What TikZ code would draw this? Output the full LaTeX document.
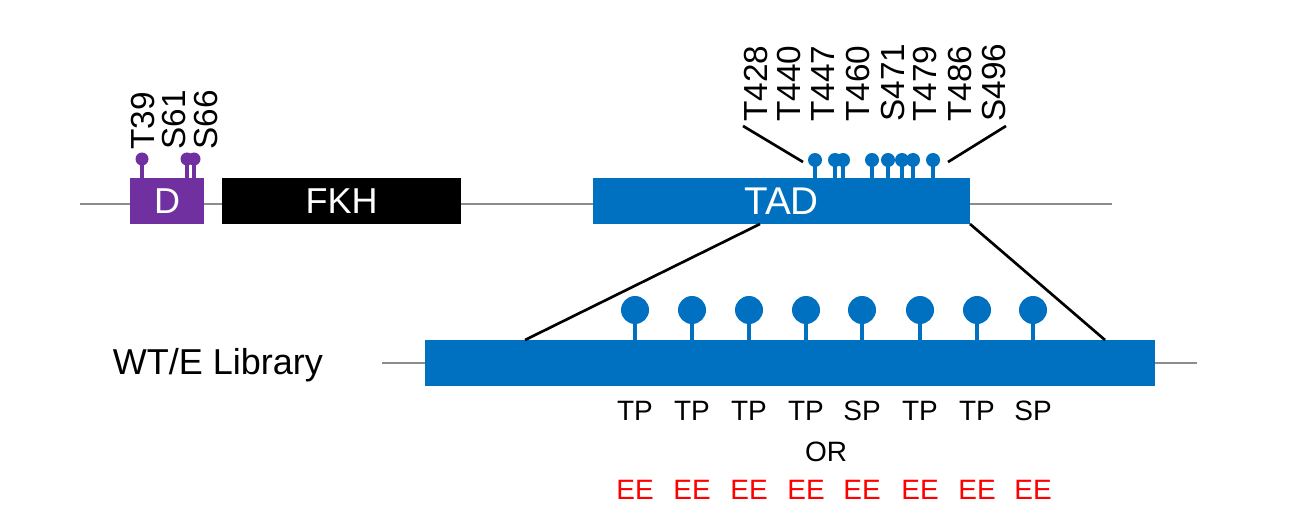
\documentclass[tikz,border=0pt]{standalone}
\usepackage{fontspec}
\setmainfont{Liberation Sans}
\begin{document}
\begin{tikzpicture}[x=0.75pt,y=-0.75pt,
  bb/.style={draw=none,anchor=center,inner sep=0pt},
  gline/.style={draw=gray!90,line width=2.2pt},
  kline/.style={draw=black,line width=2pt},
  rot/.style={rotate=90,anchor=west,inner sep=0pt,font=\fontsize{25}{25}\selectfont},
  lbl/.style={inner sep=0pt,font=\fontsize{21}{21}\selectfont}]
\definecolor{tblue}{RGB}{0,112,192}
\definecolor{dpurp}{RGB}{112,48,160}
\useasboundingbox (0,0) rectangle (1316,520);
% top line
\coordinate (l1) at (80,204); \coordinate (l2) at (1112,204);
\draw[gline] (l1) -- (l2);
\node[bb,fill=dpurp,minimum width=74*0.75pt,minimum height=46*0.75pt,text=white,font=\fontsize{27}{27}\selectfont] (D) at (167,201) {D};
\node[bb,fill=black,minimum width=239*0.75pt,minimum height=46*0.75pt,text=white,font=\fontsize{27}{27}\selectfont] (FKH) at (341.5,201) {FKH};
\node[bb,fill=tblue,minimum width=377*0.75pt,minimum height=46*0.75pt,text=white,font=\fontsize{29}{29}\selectfont] (TAD) at (781.5,201) {TAD};
% D lollipops
\foreach \x in {142,187,194}{
  \draw[dpurp,line width=2.5pt] (\x,178) -- (\x,160);
  \fill[dpurp] (\x,159) circle (6.5);
}
\node[rot] (t39) at (143,150) {T39};
\node[rot] (s61) at (174,150) {S61};
\node[rot] (s66) at (206,150) {S66};
% TAD lollipops
\foreach \x in {815,835,843,872,888,902,913,933}{
  \draw[tblue,line width=2.5pt] (\x,178) -- (\x,162);
  \fill[tblue] (\x,160) circle (7);
}
\foreach \t/\x in {T428/756,T440/789,T447/823,T460/858,S471/893,T479/925,T486/960,S496/994}{
  \node[rot] (n\t) at (\x,122) {\t};
}
\coordinate (a1) at (743,126); \coordinate (a2) at (803,162);
\coordinate (b1) at (1006,126); \coordinate (b2) at (948,162);
\draw[kline] (a1) -- (a2); \draw[kline] (b1) -- (b2);
% library
\coordinate (m1) at (382,363); \coordinate (m2) at (1197,363);
\draw[gline] (m1) -- (m2);
\node[bb,fill=tblue,minimum width=730*0.75pt,minimum height=46*0.75pt] (LIB) at (790,363) {};
\coordinate (z1) at (760,224); \coordinate (z2) at (525,340);
\coordinate (z3) at (970,224); \coordinate (z4) at (1105,340);
\draw[kline] (z1) -- (z2); \draw[kline] (z3) -- (z4);
\foreach \x in {635,692,749,806,862,920,977,1033}{
  \draw[tblue,line width=3.5pt] (\x,340) -- (\x,315);
  \fill[tblue] (\x,310) circle (14);
}
\node[inner sep=0pt,font=\fontsize{27}{27}\selectfont] (wt) at (218,365) {WT/E Library};
\foreach \t/\x in {TP/635,TP/692,TP/749,TP/806,SP/862,TP/920,TP/977,SP/1033}{
  \node[lbl] (p\x) at (\x,411) {\t};
  \node[lbl,text=red] (e\x) at (\x,490) {EE};
}
\node[lbl] (or) at (826,452) {OR};
\end{tikzpicture}
\end{document}
